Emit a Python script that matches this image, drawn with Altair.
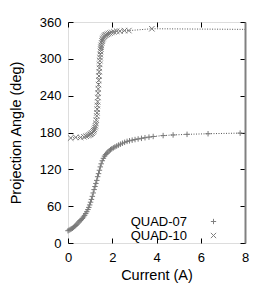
import altair as alt
import pandas as pd

# QUAD-07 (+) : current (A), projection angle (deg)
q07_x = [0.00, 0.05, 0.10, 0.15, 0.20, 0.25, 0.30, 0.35, 0.40, 0.45,
         0.50, 0.55, 0.60, 0.65, 0.70, 0.75, 0.80, 0.85, 0.90, 0.94,
         0.98, 1.02, 1.06, 1.10, 1.14, 1.18, 1.22, 1.26, 1.30, 1.34,
         1.38, 1.42, 1.46, 1.50, 1.55, 1.60, 1.65, 1.70, 1.75, 1.80,
         1.86, 1.92, 1.98, 2.05, 2.12, 2.20, 2.28, 2.37, 2.46, 2.56,
         2.67, 2.78, 2.90, 3.03, 3.17, 3.32, 3.48, 3.66, 3.85, 4.30,
         4.75, 5.38, 6.33, 7.78]
q07_v = [20, 21, 22, 23, 24, 25.5, 27, 28.5, 30.5, 32.5,
         34.5, 36.5, 38, 40, 42.5, 45, 48, 51, 54.5, 58,
         62, 66.5, 71, 76, 81.5, 87, 92, 97, 102, 108,
         113, 118.5, 124, 129, 134, 138, 141.5, 144, 146, 148,
         150, 152, 153.5, 155, 156.5, 158, 159.5, 161, 162.5, 164,
         165.5, 166.5, 167.5, 168.5, 169.5, 170.5, 171.5, 172.5, 173.5, 175,
         176, 177, 178, 179]

# QUAD-10 (x)
q10_x = [0.12, 0.35, 0.57, 0.72, 0.82, 0.90, 0.96, 1.01, 1.05, 1.09,
         1.13, 1.16, 1.19, 1.22, 1.24, 1.26, 1.28, 1.30, 1.31, 1.32,
         1.33, 1.34, 1.35, 1.36, 1.37, 1.38, 1.39, 1.40, 1.41, 1.42,
         1.43, 1.44, 1.45, 1.46, 1.47, 1.48, 1.49, 1.50, 1.52, 1.54,
         1.56, 1.58, 1.61, 1.64, 1.68, 1.72, 1.77, 1.83, 1.90, 1.98,
         2.08, 2.20, 2.35, 2.55, 2.75, 3.79]
q10_v = [171, 172, 172, 173, 174, 175, 176, 177, 178, 179,
         181, 183, 185, 188, 191, 195, 200, 207, 212, 218,
         224, 230, 237, 244, 251, 258, 265, 272, 279, 285,
         291, 297, 302, 307, 312, 316, 319, 322, 326, 329,
         331, 333, 335, 337, 338, 339, 340, 341, 342, 343,
         344, 345, 345, 346, 346, 349]

# line-only continuation to the right edge
tail_series = ["QUAD-07", "QUAD-10"]
tail_x = [8.0, 8.0]
tail_v = [179, 348]

x_ticks = [0, 2, 4, 6, 8]
y_ticks = [0, 60, 120, 180, 240, 300, 360]

assert len(q07_x) == len(q07_v)
assert len(q10_x) == len(q10_v)

rows = []
for a, b in zip(q07_x, q07_v):
    rows.append({"series": "QUAD-07", "x": a, "v": b, "mark": True})
for a, b in zip(q10_x, q10_v):
    rows.append({"series": "QUAD-10", "x": a, "v": b, "mark": True})
for s, a, b in zip(tail_series, tail_x, tail_v):
    rows.append({"series": s, "x": a, "v": b, "mark": False})
df = pd.DataFrame(rows)

W, H = 177, 221
FONT = "Liberation Sans"
PLUS = "M-1,0H1M0,-1V1"
CROSS = "M-1,-1L1,1M-1,1L1,-1"

xs = alt.Scale(domain=[0, 8], nice=False, zero=False)
ys = alt.Scale(domain=[0, 360], nice=False, zero=False)

base = alt.Chart(df)

main_x = alt.Axis(values=x_ticks, title="Current (A)", ticks=False, tickSize=0,
                  domain=False, grid=False, labelPadding=8, labelFontSize=13,
                  titleFontSize=14.5, titleFontWeight="normal", titleY=32,
                  titleBaseline="middle", labelFlush=False)
main_y = alt.Axis(values=y_ticks, title="Projection Angle (deg)", ticks=False,
                  tickSize=0, domain=False, grid=False, labelPadding=7,
                  labelFontSize=13, titleFontSize=14.5, titleFontWeight="normal",
                  titleX=-52, titleY=H / 2, titleBaseline="middle",
                  titleAlign="center", labelFlush=False)

lines = base.mark_line(color="#444444", strokeWidth=0.9, strokeDash=[1, 1.5]).encode(
    x=alt.X("x:Q", scale=xs, axis=main_x),
    y=alt.Y("v:Q", scale=ys, axis=main_y),
    detail="series:N",
    order="x:Q",
)

points = base.mark_point(filled=False, color="#7a7a7a", strokeWidth=1, size=30, opacity=1).encode(
    x=alt.X("x:Q", scale=xs, axis=None),
    y=alt.Y("v:Q", scale=ys, axis=None),
    shape=alt.Shape("series:N", scale=alt.Scale(domain=["QUAD-07", "QUAD-10"], range=[PLUS, CROSS]),
                    legend=alt.Legend(orient="none", legendX=139, legendY=193, title=None,
                                      labelAlign="right", labelOffset={"expr": "-33"},
                                      labelFontSize=13, labelFont=FONT,
                                      rowPadding={"expr": "-6.7"},
                                      symbolSize=28, symbolStrokeColor="#808080",
                                      symbolStrokeWidth=1, padding=0)),
).transform_filter("datum.mark")

tick_a = base.mark_point(opacity=0).encode(
    x=alt.X("x:Q", scale=xs, axis=alt.Axis(orient="top", offset=-H, values=x_ticks, labels=False,
                                           title=None, domain=False, grid=False, tickSize=5,
                                           tickColor="black")),
    y=alt.Y("v:Q", scale=ys, axis=alt.Axis(orient="right", offset=-W, values=y_ticks, labels=False,
                                           title=None, domain=False, grid=False, tickSize=5,
                                           tickColor="black")),
)

tick_b = base.mark_point(opacity=0).encode(
    x=alt.X("x:Q", scale=xs, axis=alt.Axis(orient="bottom", offset=-H, values=x_ticks, labels=False,
                                           title=None, domain=False, grid=False, tickSize=5,
                                           tickColor="black")),
    y=alt.Y("v:Q", scale=ys, axis=alt.Axis(orient="left", offset=-W, values=y_ticks, labels=False,
                                           title=None, domain=True, domainColor="#808080",
                                           domainWidth=2, grid=False, tickSize=5,
                                           tickColor="black")),
)

chart = alt.layer(lines, points, tick_a, tick_b).resolve_axis(
    x="independent", y="independent"
).properties(
    width=W, height=H, autosize="none",
    padding={"left": 60, "top": 14, "right": 11, "bottom": 42},
).configure_view(stroke="black", strokeWidth=1).configure_axis(
    labelFont=FONT, titleFont=FONT, labelColor="black", titleColor="black"
).configure(background="white")

chart.save("out.html", embed_options={"renderer": "svg", "actions": False})
